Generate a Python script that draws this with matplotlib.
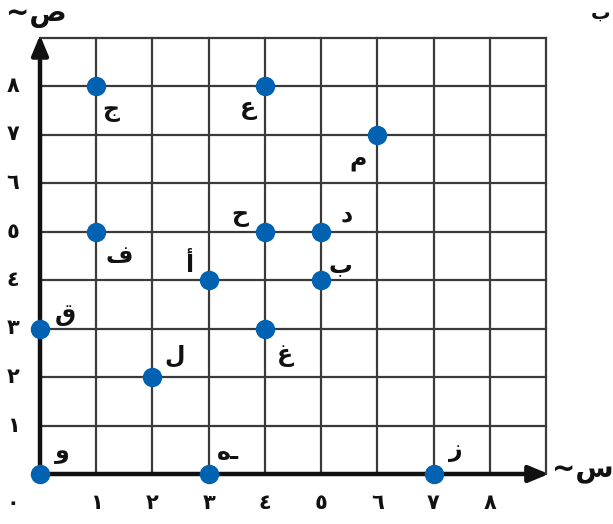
import matplotlib
matplotlib.use("Agg")
import matplotlib.pyplot as plt

plt.rcParams['font.family'] = ['DejaVu Sans']

# data
labels = ["ج", "ع", "م", "ح", "د", "ف", "أ", "ب", "ق", "غ", "ل", "و", "هـ", "ز"]
xs = [1, 4, 6, 4, 5, 1, 3, 5, 0, 4, 2, 0, 3, 7]
ys = [8, 8, 7, 5, 5, 5, 4, 4, 3, 3, 2, 0, 0, 0]
# label offsets (data units)
dx = [0.25, -0.3, -0.35, -0.45, 0.45, 0.4, -0.35, 0.35, 0.45, 0.35, 0.4, 0.4, 0.35, 0.4]
dy = [-0.5, -0.45, -0.5, 0.35, 0.35, -0.5, 0.3, 0.3, 0.3, -0.55, 0.45, 0.45, 0.45, 0.5]
tick_vals = [1, 2, 3, 4, 5, 6, 7, 8]
tick_labels = ["١", "٢", "٣", "٤", "٥", "٦", "٧", "٨"]
zero_label = "٠"

W, H = 613, 524
fig = plt.figure(figsize=(W / 100, H / 100), dpi=100)
x0, x9 = 40, 546
y0, y9 = 474, 37.5
ax = fig.add_axes([x0 / W, (H - y0) / H, (x9 - x0) / W, (y0 - y9) / H])
ax.set_xlim(0, 9)
ax.set_ylim(0, 9)
ax.axis('off')

gcol = '#3a3a3a'
for v in range(1, 10):
    ax.plot([v, v], [0, 9], color=gcol, lw=1.6, zorder=1, clip_on=False)
    ax.plot([0, 9], [v, v], color=gcol, lw=1.6, zorder=1, clip_on=False)

# axes with arrows
ax.annotate('', xy=(9.05, 0), xytext=(0, 0),
            arrowprops=dict(arrowstyle='-|>,head_length=1.2,head_width=0.5', color='#111111', lw=3.2,
                            shrinkA=0, shrinkB=0), annotation_clip=False, zorder=3)
ax.annotate('', xy=(0, 9.05), xytext=(0, 0),
            arrowprops=dict(arrowstyle='-|>,head_length=1.2,head_width=0.5', color='#111111', lw=3.2,
                            shrinkA=0, shrinkB=0), annotation_clip=False, zorder=3)

ax.plot(xs, ys, 'o', color='#0062b1', ms=14, mec='none', zorder=5, clip_on=False)

for lab, x, y, ddx, ddy in zip(labels, xs, ys, dx, dy):
    ax.text(x + ddx, y + ddy, lab, fontsize=17, fontweight='bold', ha='center', va='center',
            color='#111111', zorder=6)

for v, t in zip(tick_vals, tick_labels):
    ax.text(v, -0.6, t, fontsize=15, fontweight='bold', ha='center', va='center', color='#111111')
    ax.text(-0.48, v, t, fontsize=15, fontweight='bold', ha='center', va='center', color='#111111')
ax.text(-0.48, -0.6, zero_label, fontsize=15, fontweight='bold', ha='center', va='center', color='#111111')

# axis names
fig.text(583 / W, 1 - 470 / H, "~س", fontsize=20, fontweight='bold', ha='center', va='center', color='#111111')
fig.text(36 / W, 1 - 14 / H, "~ص", fontsize=20, fontweight='bold', ha='center', va='center', color='#111111')
fig.text(601 / W, 1 - 13 / H, "ب", fontsize=14, fontweight='bold', ha='center', va='center', color='#111111')

fig.savefig('out.png', dpi=100)
